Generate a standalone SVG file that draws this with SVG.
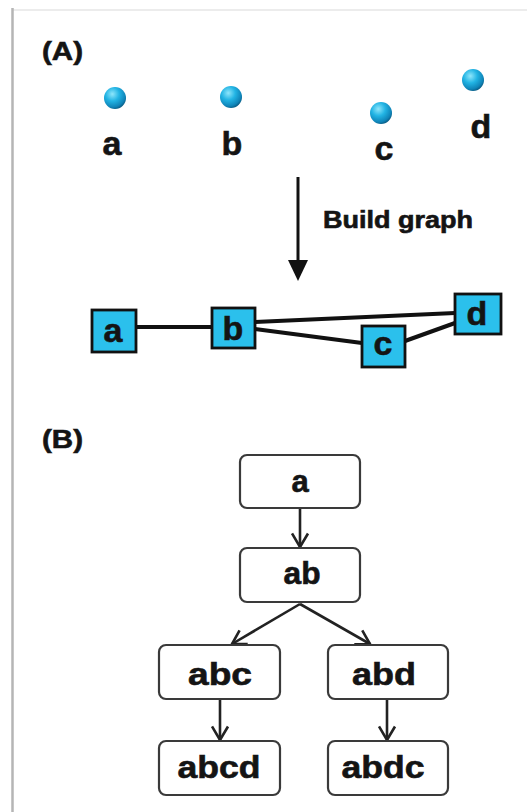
<svg xmlns="http://www.w3.org/2000/svg" width="527" height="812" viewBox="0 0 527 812">
<defs>
<radialGradient id="ball" cx="0.38" cy="0.32" r="0.7">
<stop offset="0" stop-color="#8fe6fb"/>
<stop offset="0.45" stop-color="#22b4e4"/>
<stop offset="0.85" stop-color="#0f84b8"/>
<stop offset="1" stop-color="#0a5f88"/>
</radialGradient>
<marker id="vee" markerWidth="17" markerHeight="19" viewBox="0 0 17 19" refX="15" refY="9.5" orient="auto" markerUnits="userSpaceOnUse">
<path d="M1.5,1.5 L15,9.5 L1.5,17.5" fill="none" stroke="#222" stroke-width="2.6"/>
</marker>
</defs>
<style>
text{font-family:"Liberation Sans",Arial,sans-serif;font-weight:bold;fill:#141414;stroke:#141414;stroke-width:0.6;text-anchor:middle}
.lbl{font-size:26px;text-anchor:start}
.pt{font-size:34px}
.sq rect{fill:#2bc0ec;stroke:#111;stroke-width:2.8}
.sq text{font-size:34px}
.tb rect{fill:#fff;stroke:#3a3a3a;stroke-width:2.2}
.tb text{font-size:31px}
.edge{stroke:#111;stroke-width:4;fill:none}
.tarrow{stroke:#222;stroke-width:2.6;fill:none;marker-end:url(#vee)}
</style>
<rect width="527" height="812" fill="#fff"/>
<line x1="12" y1="10" x2="527" y2="10" stroke="#e6e6e6" stroke-width="1.5"/>
<line x1="12.5" y1="8" x2="12.5" y2="812" stroke="#b5b5b5" stroke-width="2.5"/>

<text class="lbl" x="42" y="60" textLength="41" lengthAdjust="spacingAndGlyphs">(A)</text>
<text class="lbl" x="42" y="448" textLength="41" lengthAdjust="spacingAndGlyphs">(B)</text>

<g id="point-a"><circle cx="115" cy="98" r="11" fill="url(#ball)"/><text class="pt" x="112" y="155">a</text></g>
<g id="point-b"><circle cx="231" cy="97" r="11" fill="url(#ball)"/><text class="pt" x="232" y="155">b</text></g>
<g id="point-c"><circle cx="381" cy="113" r="11" fill="url(#ball)"/><text class="pt" x="384" y="160">c</text></g>
<g id="point-d"><circle cx="473" cy="80" r="11" fill="url(#ball)"/><text class="pt" x="481" y="138">d</text></g>

<g id="build-arrow">
<line x1="298" y1="177" x2="298" y2="263" stroke="#111" stroke-width="3"/>
<polygon points="288,260 308,260 298,281" fill="#111"/>
<text x="323" y="228" style="font-size:23px;text-anchor:start" textLength="150" lengthAdjust="spacingAndGlyphs">Build graph</text>
</g>

<g id="graph-edges">
<line class="edge" x1="136" y1="327" x2="212" y2="327"/>
<line class="edge" x1="255" y1="322" x2="455" y2="313"/>
<line class="edge" x1="255" y1="329" x2="362" y2="343"/>
<line class="edge" x1="405" y1="341" x2="455" y2="323"/>
</g>
<g id="sq-a" class="sq"><rect x="92" y="310" width="44" height="42"/><text x="113" y="342">a</text></g>
<g id="sq-b" class="sq"><rect x="212" y="308" width="43" height="40"/><text x="233" y="340">b</text></g>
<g id="sq-c" class="sq"><rect x="362" y="326" width="43" height="41"/><text x="383" y="355">c</text></g>
<g id="sq-d" class="sq"><rect x="455" y="294" width="46" height="40"/><text x="477" y="325">d</text></g>

<g id="tree-connectors">
<line class="tarrow" x1="300" y1="509" x2="300" y2="547"/>
<line class="tarrow" x1="300" y1="604" x2="232" y2="644"/>
<line class="tarrow" x1="300" y1="604" x2="370" y2="644"/>
<line class="tarrow" x1="220" y1="700" x2="220" y2="740"/>
<line class="tarrow" x1="387" y1="700" x2="387" y2="740"/>
</g>
<g id="t-a" class="tb"><rect x="240" y="455" width="120" height="53" rx="7"/><text x="300" y="492">a</text></g>
<g id="t-ab" class="tb"><rect x="240" y="548" width="120" height="54" rx="7"/><text x="302" y="584" textLength="37" lengthAdjust="spacingAndGlyphs">ab</text></g>
<g id="t-abc" class="tb"><rect x="159" y="645" width="121" height="54" rx="7"/><text x="220" y="685" textLength="64" lengthAdjust="spacingAndGlyphs">abc</text></g>
<g id="t-abd" class="tb"><rect x="328" y="645" width="120" height="54" rx="7"/><text x="384" y="685" textLength="64" lengthAdjust="spacingAndGlyphs">abd</text></g>
<g id="t-abcd" class="tb"><rect x="159" y="741" width="121" height="54" rx="7"/><text x="219" y="778" textLength="83" lengthAdjust="spacingAndGlyphs">abcd</text></g>
<g id="t-abdc" class="tb"><rect x="328" y="741" width="120" height="54" rx="7"/><text x="383" y="778" textLength="83" lengthAdjust="spacingAndGlyphs">abdc</text></g>
</svg>
